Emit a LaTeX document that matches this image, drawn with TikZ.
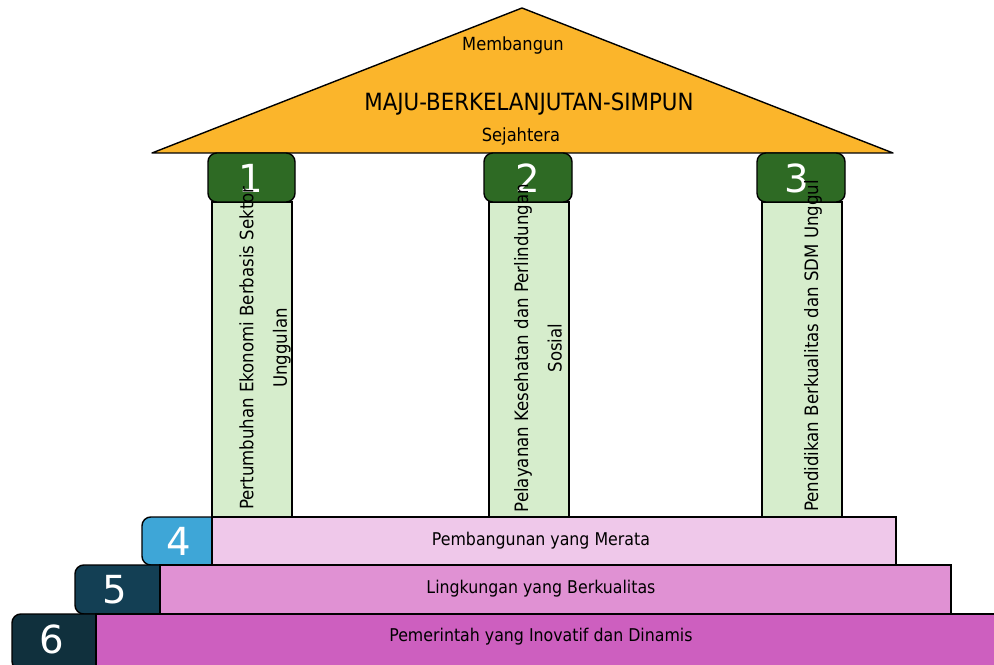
\documentclass[tikz,border=0pt]{standalone}
\usepackage{fontspec}
\setmainfont{DejaVu Sans Condensed}
\newfontfamily\numfont{DejaVu Sans}
\usetikzlibrary{positioning}
\definecolor{roofcol}{HTML}{FBB52B}
\definecolor{capgreen}{HTML}{2E6A24}
\definecolor{colgreen}{HTML}{D6EDCC}
\definecolor{numblue}{HTML}{3EA6D7}
\definecolor{barpink}{HTML}{EFC8EA}
\definecolor{numteal}{HTML}{133F54}
\definecolor{barrose}{HTML}{E091D3}
\definecolor{numdark}{HTML}{10303D}
\definecolor{barmagenta}{HTML}{CD5FBF}
\tikzset{
  numtext/.style={text=white, font=\numfont\fontsize{22}{22}\selectfont},
  coltext/.style={rotate=90, align=center, font=\fontsize{10.5}{19}\selectfont},
  bartext/.style={font=\fontsize{10}{12}\selectfont},
}

\begin{document}
\begin{tikzpicture}[x=0.02cm, y=-0.02cm, line width=0.8pt]
		%%%%% START %%%%%
		\useasboundingbox (0,0) rectangle (994,665);
		
		% roof
		\draw[fill=roofcol, line join=round] (152,153) -- (522,8) -- (893,153) -- cycle;
		\node[font=\fontsize{10.3}{12}\selectfont] (build) at (513,46) {Membangun};
		\node[font=\fontsize{13.5}{14}\selectfont] (motto) at (529,104) {MAJU-BERKELANJUTAN-SIMPUN};
		\node[font=\fontsize{10.3}{12}\selectfont] (wealth) at (521,137) {Sejahtera};
		
		% pillars
		\draw[fill=colgreen] (212,202) rectangle (292,517);
		\draw[fill=colgreen] (489,202) rectangle (569,517);
		\draw[fill=colgreen] (762,202) rectangle (842,517);
		
		\draw[fill=capgreen, rounded corners=5pt] (208,153) rectangle (295,202);
		\draw[fill=capgreen, rounded corners=5pt] (484,153) rectangle (572,202);
		\draw[fill=capgreen, rounded corners=5pt] (757,153) rectangle (845,202);
		\node[numtext] (n1) at (251,178) {1};
		\node[numtext] (n2) at (528,178) {2};
		\node[numtext] (n3) at (797,178) {3};
		
		\node[coltext] (p1) at (265,348) {Pertumbuhan Ekonomi Berbasis Sektor\\Unggulan};
		\node[coltext] (p2) at (538,348) {Pelayanan Kesehatan dan Perlindungan\\Sosial};
		\node[coltext] (p3) at (813,346) {Pendidikan Berkualitas dan SDM Unggul};
		
		% steps
		\draw[fill=numblue, rounded corners=5pt] (142,517) rectangle (240,565);
		\draw[fill=barpink] (212,517) rectangle (896,565);
		\node[numtext] (n4) at (179,541) {4};
		\node[bartext] (s4) at (541,541) {Pembangunan yang Merata};
		
		\draw[fill=numteal, rounded corners=5pt] (75,565) rectangle (190,614);
		\draw[fill=barrose] (160,565) rectangle (951,614);
		\node[numtext] (n5) at (115,590) {5};
		\node[bartext] (s5) at (541,589) {Lingkungan yang Berkualitas};
		
		\draw[fill=numdark, rounded corners=5pt] (12,614) rectangle (130,670);
		\draw[fill=barmagenta] (96,614) rectangle (1000,670);
		\node[numtext] (n6) at (52,639) {6};
		\node[bartext] (s6) at (541,637) {Pemerintah yang Inovatif dan Dinamis};
		
		%%%%% END %%%%%
	\end{tikzpicture}
\end{document}
